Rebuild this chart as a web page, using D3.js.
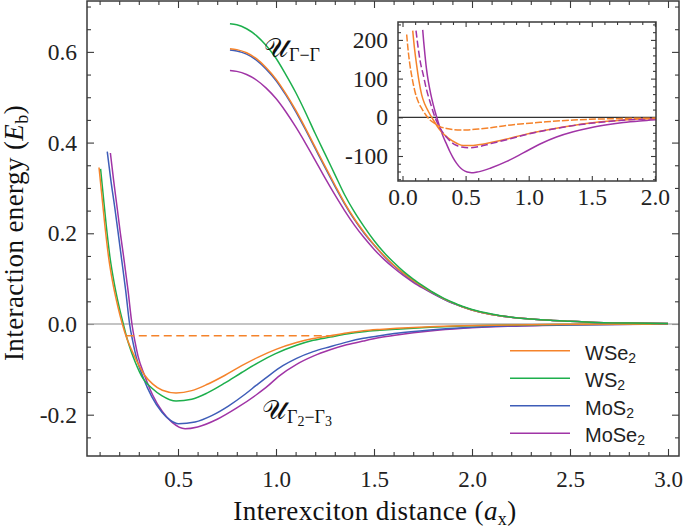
<!DOCTYPE html>
<html><head><meta charset="utf-8">
<script src="https://cdn.jsdelivr.net/npm/d3@7"></script>
<style>body{margin:0;background:#fff}svg{display:block}
.ser{font-family:"Liberation Serif","DejaVu Serif",serif}
.san{font-family:"Liberation Sans","DejaVu Sans",sans-serif}
</style>
</head><body>
<svg id="c" width="685" height="529"></svg>
<script>
// ---------- DATA ----------
const seriesNames = ["WSe", "WS", "MoS", "MoSe"];
const seriesColors = ["#F5832B", "#1DAF4C", "#3E5DB8", "#A034A6"];

// lower branch U_{Γ2-Γ3}
const wse2Low = [[0.097,0.345],[0.109,0.294],[0.126,0.221],[0.146,0.147],[0.168,0.089],[0.194,0.037],[0.216,0],[0.236,-0.028],[0.258,-0.052],[0.280,-0.073],[0.33,-0.113],[0.37,-0.132],[0.42,-0.146],[0.49,-0.152],[0.57,-0.147],[0.65,-0.133],[0.74,-0.113],[0.825,-0.092],[0.91,-0.073],[1.0,-0.056],[1.105,-0.041],[1.19,-0.032],[1.276,-0.026],[1.36,-0.020],[1.446,-0.015],[1.53,-0.012],[1.616,-0.0096],[1.786,-0.0059],[1.956,-0.0037],[2.2,-0.002],[2.5,-0.0008],[3.0,0]];
const ws2Low = [[0.105,0.342],[0.117,0.290],[0.133,0.221],[0.153,0.147],[0.175,0.089],[0.200,0.037],[0.221,0],[0.24,-0.032],[0.26,-0.059],[0.28,-0.082],[0.321,-0.120],[0.366,-0.141],[0.417,-0.158],[0.49,-0.170],[0.57,-0.166],[0.65,-0.152],[0.74,-0.130],[0.825,-0.107],[0.91,-0.085],[0.995,-0.066],[1.105,-0.047],[1.19,-0.036],[1.276,-0.029],[1.36,-0.022],[1.446,-0.017],[1.53,-0.014],[1.616,-0.0115],[1.786,-0.0073],[1.956,-0.0044],[2.2,-0.0022],[2.5,-0.0009],[3.0,0]];
const mos2Low = [[0.139,0.380],[0.158,0.315],[0.177,0.258],[0.195,0.200],[0.211,0.147],[0.233,0.074],[0.253,0],[0.270,-0.040],[0.287,-0.073],[0.323,-0.119],[0.366,-0.160],[0.417,-0.194],[0.46,-0.212],[0.502,-0.220],[0.587,-0.216],[0.672,-0.202],[0.757,-0.181],[0.842,-0.155],[0.90,-0.135],[0.969,-0.112],[1.035,-0.092],[1.105,-0.0757],[1.19,-0.061],[1.276,-0.050],[1.36,-0.040],[1.446,-0.0316],[1.53,-0.026],[1.616,-0.0206],[1.786,-0.0132],[1.956,-0.0081],[2.2,-0.004],[2.5,-0.0015],[3.0,0]];
const mose2Low = [[0.155,0.377],[0.172,0.315],[0.189,0.258],[0.206,0.200],[0.223,0.147],[0.245,0.074],[0.265,0],[0.280,-0.038],[0.296,-0.071],[0.33,-0.114],[0.37,-0.156],[0.42,-0.193],[0.47,-0.217],[0.536,-0.231],[0.60,-0.227],[0.70,-0.210],[0.80,-0.185],[0.90,-0.156],[0.96,-0.136],[1.012,-0.116],[1.105,-0.089],[1.19,-0.071],[1.276,-0.057],[1.36,-0.046],[1.446,-0.0375],[1.53,-0.030],[1.616,-0.0243],[1.786,-0.0154],[1.956,-0.0096],[2.2,-0.005],[2.5,-0.002],[3.0,0]];

// upper branch U_{Γ-Γ}
const wse2Up = [[0.765,0.607],[0.80,0.605],[0.85,0.598],[0.90,0.585],[0.95,0.565],[1.00,0.540],[1.05,0.508],[1.10,0.472],[1.15,0.432],[1.20,0.390],[1.25,0.348],[1.30,0.307],[1.35,0.267],[1.40,0.232],[1.45,0.202],[1.50,0.175],[1.55,0.151],[1.60,0.130],[1.65,0.112],[1.70,0.096],[1.75,0.082],[1.80,0.069],[1.85,0.057],[1.90,0.047],[1.95,0.038],[2.00,0.031],[2.10,0.021],[2.20,0.015],[2.30,0.011],[2.40,0.008],[2.50,0.006],[2.60,0.004],[2.80,0.002],[3.00,0.001]];
const ws2Up = [[0.765,0.662],[0.80,0.660],[0.85,0.651],[0.90,0.636],[0.95,0.614],[1.00,0.586],[1.05,0.550],[1.10,0.511],[1.15,0.467],[1.20,0.420],[1.25,0.375],[1.30,0.330],[1.35,0.285],[1.40,0.247],[1.45,0.214],[1.50,0.184],[1.55,0.158],[1.60,0.136],[1.65,0.116],[1.70,0.099],[1.75,0.084],[1.80,0.070],[1.85,0.058],[1.90,0.048],[1.95,0.039],[2.00,0.032],[2.10,0.022],[2.20,0.015],[2.30,0.011],[2.40,0.008],[2.50,0.006],[2.60,0.004],[2.80,0.002],[3.00,0.001]];
const mos2Up = [[0.765,0.604],[0.80,0.602],[0.85,0.595],[0.90,0.582],[0.95,0.562],[1.00,0.537],[1.05,0.505],[1.10,0.469],[1.15,0.429],[1.20,0.387],[1.25,0.345],[1.30,0.304],[1.35,0.265],[1.40,0.230],[1.45,0.200],[1.50,0.174],[1.55,0.150],[1.60,0.129],[1.65,0.111],[1.70,0.095],[1.75,0.081],[1.80,0.068],[1.85,0.056],[1.90,0.046],[1.95,0.038],[2.00,0.031],[2.10,0.021],[2.20,0.015],[2.30,0.011],[2.40,0.008],[2.50,0.006],[2.60,0.004],[2.80,0.002],[3.00,0.001]];
const mose2Up = [[0.765,0.559],[0.80,0.557],[0.85,0.550],[0.90,0.538],[0.95,0.520],[1.00,0.497],[1.05,0.468],[1.10,0.435],[1.15,0.399],[1.20,0.361],[1.25,0.322],[1.30,0.285],[1.35,0.250],[1.40,0.218],[1.45,0.190],[1.50,0.165],[1.55,0.143],[1.60,0.124],[1.65,0.107],[1.70,0.092],[1.75,0.079],[1.80,0.067],[1.85,0.056],[1.90,0.046],[1.95,0.038],[2.00,0.031],[2.10,0.021],[2.20,0.015],[2.30,0.011],[2.40,0.008],[2.50,0.006],[2.60,0.004],[2.80,0.002],[3.00,0.001]];

// bound-state level (dashed)
const boundLevel = [[0.236,-0.026],[1.30,-0.026]];

// inset curves
const insetOrangeDashed = [[0.033,214],[0.045,172],[0.059,135],[0.08,95],[0.099,66],[0.125,40],[0.152,23],[0.185,6],[0.218,-7],[0.26,-17],[0.297,-24],[0.35,-29],[0.403,-32],[0.46,-33],[0.52,-32.5],[0.614,-30],[0.70,-27],[0.826,-21],[0.957,-16.5],[1.09,-13],[1.22,-9.5],[1.353,-7],[1.49,-5],[1.62,-4],[1.75,-3],[1.88,-2.5],[2.01,-2]];
const insetOrangeSolid = [[0.081,224],[0.095,178],[0.112,135],[0.13,95],[0.152,58],[0.178,33],[0.205,15],[0.244,-7],[0.297,-33],[0.363,-54],[0.429,-67],[0.48,-73],[0.54,-73],[0.60,-71],[0.70,-65],[0.826,-56],[0.95,-46],[1.09,-36],[1.22,-28],[1.353,-21],[1.49,-15],[1.62,-10.5],[1.75,-7],[1.88,-4.5],[2.01,-3]];
const insetPurpleDashed = [[0.107,224],[0.12,190],[0.14,145],[0.165,109],[0.19,72],[0.218,40],[0.245,12],[0.271,-11],[0.297,-27],[0.323,-41],[0.356,-54],[0.39,-65],[0.43,-73],[0.469,-77],[0.535,-79],[0.60,-76],[0.70,-68],[0.826,-58],[0.95,-47],[1.09,-36.5],[1.22,-28.5],[1.353,-21.5],[1.49,-15.5],[1.62,-11],[1.75,-7.5],[1.88,-5],[2.01,-3.5]];
const insetPurpleSolid = [[0.16,226],[0.168,195],[0.178,161],[0.19,125],[0.205,92],[0.224,60],[0.244,32],[0.258,15],[0.271,0],[0.297,-27],[0.323,-50],[0.35,-70],[0.376,-89],[0.40,-104],[0.429,-119],[0.46,-131],[0.495,-139],[0.535,-142.5],[0.56,-143],[0.60,-141],[0.70,-131],[0.826,-114],[0.957,-92],[1.09,-69],[1.22,-51],[1.353,-37.5],[1.49,-27],[1.62,-19.5],[1.75,-13.5],[1.88,-9.5],[2.01,-6.5]];

// tick labels
const mainXTicks = [0.5, 1.0, 1.5, 2.0, 2.5, 3.0];
const mainYTicks = [-0.2, 0.0, 0.2, 0.4, 0.6];
const insetXTicks = [0.0, 0.5, 1.0, 1.5, 2.0];
const insetYTicks = [-100, 0, 100, 200];

// ---------- DRAW ----------
const svg = d3.select("#c");
const frameColor = "#3a3a3a";
const SERIF = '"Liberation Serif","DejaVu Serif",serif';

const P = {l:87, r:679, t:1, b:456};
const x = d3.scaleLinear().domain([0.0357, 3.0561]).range([P.l, P.r]);
const y = d3.scaleLinear().domain([-0.2911, 0.7122]).range([P.b, P.t]);

const defs = svg.append("defs");
defs.append("clipPath").attr("id","clipMain").append("rect")
  .attr("x",P.l).attr("y",P.t).attr("width",P.r-P.l).attr("height",P.b-P.t);

const fmt1 = d => d3.format(".1f")(d).replace("\u2212","-");
const fmt0 = d => d3.format("d")(d).replace("\u2212","-");

function styleAxis(g, size){
  g.attr("font-family",SERIF).attr("font-size",size);
  g.select(".domain").remove();
  g.selectAll(".tick line").attr("stroke",frameColor).attr("stroke-width",1.1);
  g.selectAll(".tick text").style("font-family",SERIF).style("font-size",size+"px").attr("fill","#222");
}

// main axes
const mainXMinor = d3.range(1, 31).map(i => i/10).filter(v => !mainXTicks.some(t => Math.abs(t-v)<1e-6));
const mainYMinor = d3.range(-5, 15).map(i => i*0.05).filter(v => !mainYTicks.some(t => Math.abs(t-v)<1e-6));

svg.append("g").attr("transform",`translate(0,${P.b})`)
  .call(d3.axisBottom(x).tickValues(mainXMinor).tickSize(-4).tickFormat("")).call(g=>styleAxis(g,23));
svg.append("g").attr("transform",`translate(0,${P.b})`)
  .call(d3.axisBottom(x).tickValues(mainXTicks).tickSizeInner(-7).tickSizeOuter(0).tickPadding(15).tickFormat(fmt1)).call(g=>styleAxis(g,23));
svg.append("g").attr("transform",`translate(0,${P.t})`)
  .call(d3.axisTop(x).tickValues(mainXMinor).tickSize(-4).tickFormat("")).call(g=>styleAxis(g,23));
svg.append("g").attr("transform",`translate(0,${P.t})`)
  .call(d3.axisTop(x).tickValues(mainXTicks).tickSize(-7).tickFormat("")).call(g=>styleAxis(g,23));

svg.append("g").attr("transform",`translate(${P.l},0)`)
  .call(d3.axisLeft(y).tickValues(mainYMinor).tickSize(-4).tickFormat("")).call(g=>styleAxis(g,23));
svg.append("g").attr("transform",`translate(${P.l},0)`)
  .call(d3.axisLeft(y).tickValues(mainYTicks).tickSizeInner(-7).tickSizeOuter(0).tickPadding(10).tickFormat(fmt1)).call(g=>styleAxis(g,23.5));
svg.append("g").attr("transform",`translate(${P.r},0)`)
  .call(d3.axisRight(y).tickValues(mainYMinor).tickSize(-4).tickFormat("")).call(g=>styleAxis(g,23));
svg.append("g").attr("transform",`translate(${P.r},0)`)
  .call(d3.axisRight(y).tickValues(mainYTicks).tickSize(-7).tickFormat("")).call(g=>styleAxis(g,23));

// zero line
svg.append("line").attr("x1",P.l).attr("x2",P.r).attr("y1",y(0)).attr("y2",y(0))
  .attr("stroke","#b0b0b0").attr("stroke-width",1.4);

const line = d3.line().x(d=>x(d[0])).y(d=>y(d[1])).curve(d3.curveMonotoneX);
const curvesG = svg.append("g").attr("clip-path","url(#clipMain)");
const lows = [wse2Low, ws2Low, mos2Low, mose2Low];
const ups = [wse2Up, ws2Up, mos2Up, mose2Up];
[3,2,1,0].forEach(i=>{
  curvesG.append("path").attr("d",line(lows[i])).attr("fill","none")
    .attr("stroke",seriesColors[i]).attr("stroke-width",1.5);
});
[3,2,0,1].forEach(i=>{
  curvesG.append("path").attr("d",line(ups[i])).attr("fill","none")
    .attr("stroke",seriesColors[i]).attr("stroke-width",1.5);
});
curvesG.append("path").attr("d",d3.line().x(d=>x(d[0])).y(d=>y(d[1]))(boundLevel))
  .attr("fill","none").attr("stroke",seriesColors[0]).attr("stroke-width",1.5).attr("stroke-dasharray","8,4.5");

// frame
svg.append("rect").attr("x",P.l).attr("y",P.t).attr("width",P.r-P.l).attr("height",P.b-P.t)
  .attr("fill","none").attr("stroke",frameColor).attr("stroke-width",1.5);

// annotations
const a1 = svg.append("text").attr("class","ser").attr("x",264).attr("y",57).attr("fill","#111");
a1.append("tspan").style("font-size","27px").text("\u{1D4B0}");
a1.append("tspan").style("font-size","18px").attr("dy",4).attr("dx",1).text("\u0393\u2212\u0393");

const a2 = svg.append("text").attr("class","ser").attr("x",262).attr("y",419).attr("fill","#111");
a2.append("tspan").style("font-size","27px").text("\u{1D4B0}");
a2.append("tspan").style("font-size","18px").attr("dy",4).attr("dx",1).text("\u0393");
a2.append("tspan").style("font-size","14px").attr("dy",3).text("2");
a2.append("tspan").style("font-size","18px").attr("dy",-3).text("\u2212\u0393");
a2.append("tspan").style("font-size","14px").attr("dy",3).text("3");

// axis titles
const xt = svg.append("text").attr("class","ser").attr("x",375).attr("y",520).attr("text-anchor","middle")
  .style("font-size","27px").style("letter-spacing","0.4px").attr("fill","#111");
xt.append("tspan").text("Interexciton distance (");
xt.append("tspan").style("font-style","italic").text("a");
xt.append("tspan").style("font-size","18px").attr("dy",5).text("x");
xt.append("tspan").attr("dy",-5).text(")");

const yt = svg.append("text").attr("class","ser").attr("transform","translate(23,233) rotate(-90)").attr("text-anchor","middle")
  .style("font-size","27px").style("letter-spacing","0.4px").attr("fill","#111");
yt.append("tspan").text("Interaction energy (");
yt.append("tspan").style("font-style","italic").text("E");
yt.append("tspan").style("font-size","18px").attr("dy",5).text("b");
yt.append("tspan").attr("dy",-5).text(")");

// legend
const lg = svg.append("g");
seriesNames.forEach((n,i)=>{
  const ly = 350.7 + i*27.5;
  lg.append("line").attr("x1",510).attr("x2",570).attr("y1",ly).attr("y2",ly)
    .attr("stroke",seriesColors[i]).attr("stroke-width",1.6);
  const t = lg.append("text").attr("class","san").attr("x",585).attr("y",ly+9)
    .style("font-size","20px").attr("fill","#222");
  t.append("tspan").text(n);
  t.append("tspan").style("font-size","14px").attr("dy",3).text("2");
});

// ---------- INSET ----------
const I = {l:398, r:656, t:22, b:181};
const xi = d3.scaleLinear().domain([-0.0357, 2.0087]).range([I.l, I.r]);
const yi = d3.scaleLinear().domain([-164.6, 246.3]).range([I.b, I.t]);
defs.append("clipPath").attr("id","clipInset").append("rect")
  .attr("x",I.l).attr("y",I.t).attr("width",I.r-I.l).attr("height",I.b-I.t);
svg.append("rect").attr("x",I.l).attr("y",I.t).attr("width",I.r-I.l).attr("height",I.b-I.t).attr("fill","#fff");

const inXMinor = d3.range(0, 21).map(i=>i/10).filter(v => !insetXTicks.some(t=>Math.abs(t-v)<1e-6));
const inYMinor = d3.range(-8, 13).map(i=>i*20).filter(v => !insetYTicks.some(t=>Math.abs(t-v)<1e-6));

svg.append("g").attr("transform",`translate(0,${I.b})`)
  .call(d3.axisBottom(xi).tickValues(inXMinor).tickSize(-3).tickFormat("")).call(g=>styleAxis(g,23));
svg.append("g").attr("transform",`translate(0,${I.b})`)
  .call(d3.axisBottom(xi).tickValues(insetXTicks).tickSizeInner(-5).tickSizeOuter(0).tickPadding(7).tickFormat(fmt1)).call(g=>styleAxis(g,23.5));
svg.append("g").attr("transform",`translate(0,${I.t})`)
  .call(d3.axisTop(xi).tickValues(inXMinor).tickSize(-3).tickFormat("")).call(g=>styleAxis(g,23));
svg.append("g").attr("transform",`translate(0,${I.t})`)
  .call(d3.axisTop(xi).tickValues(insetXTicks).tickSize(-5).tickFormat("")).call(g=>styleAxis(g,23));
svg.append("g").attr("transform",`translate(${I.l},0)`)
  .call(d3.axisLeft(yi).tickValues(inYMinor).tickSize(-3).tickFormat("")).call(g=>styleAxis(g,23));
svg.append("g").attr("transform",`translate(${I.l},0)`)
  .call(d3.axisLeft(yi).tickValues(insetYTicks).tickSizeInner(-5).tickSizeOuter(0).tickPadding(10).tickFormat(fmt0)).call(g=>styleAxis(g,23.5));
svg.append("g").attr("transform",`translate(${I.r},0)`)
  .call(d3.axisRight(yi).tickValues(inYMinor).tickSize(-3).tickFormat("")).call(g=>styleAxis(g,23));
svg.append("g").attr("transform",`translate(${I.r},0)`)
  .call(d3.axisRight(yi).tickValues(insetYTicks).tickSize(-5).tickFormat("")).call(g=>styleAxis(g,23));

svg.append("line").attr("x1",I.l).attr("x2",I.r).attr("y1",yi(0)).attr("y2",yi(0))
  .attr("stroke","#333").attr("stroke-width",1.3);

const lineI = d3.line().x(d=>xi(d[0])).y(d=>yi(d[1])).curve(d3.curveMonotoneX);
const ig = svg.append("g").attr("clip-path","url(#clipInset)");
ig.append("path").attr("d",lineI(insetPurpleSolid)).attr("fill","none").attr("stroke",seriesColors[3]).attr("stroke-width",1.5);
ig.append("path").attr("d",lineI(insetOrangeSolid)).attr("fill","none").attr("stroke",seriesColors[0]).attr("stroke-width",1.5);
ig.append("path").attr("d",lineI(insetPurpleDashed)).attr("fill","none").attr("stroke",seriesColors[3]).attr("stroke-width",1.5).attr("stroke-dasharray","7,3");
ig.append("path").attr("d",lineI(insetOrangeDashed)).attr("fill","none").attr("stroke",seriesColors[0]).attr("stroke-width",1.5).attr("stroke-dasharray","7,2");

svg.append("rect").attr("x",I.l).attr("y",I.t).attr("width",I.r-I.l).attr("height",I.b-I.t)
  .attr("fill","none").attr("stroke",frameColor).attr("stroke-width",1.5);
</script>
</body></html>
